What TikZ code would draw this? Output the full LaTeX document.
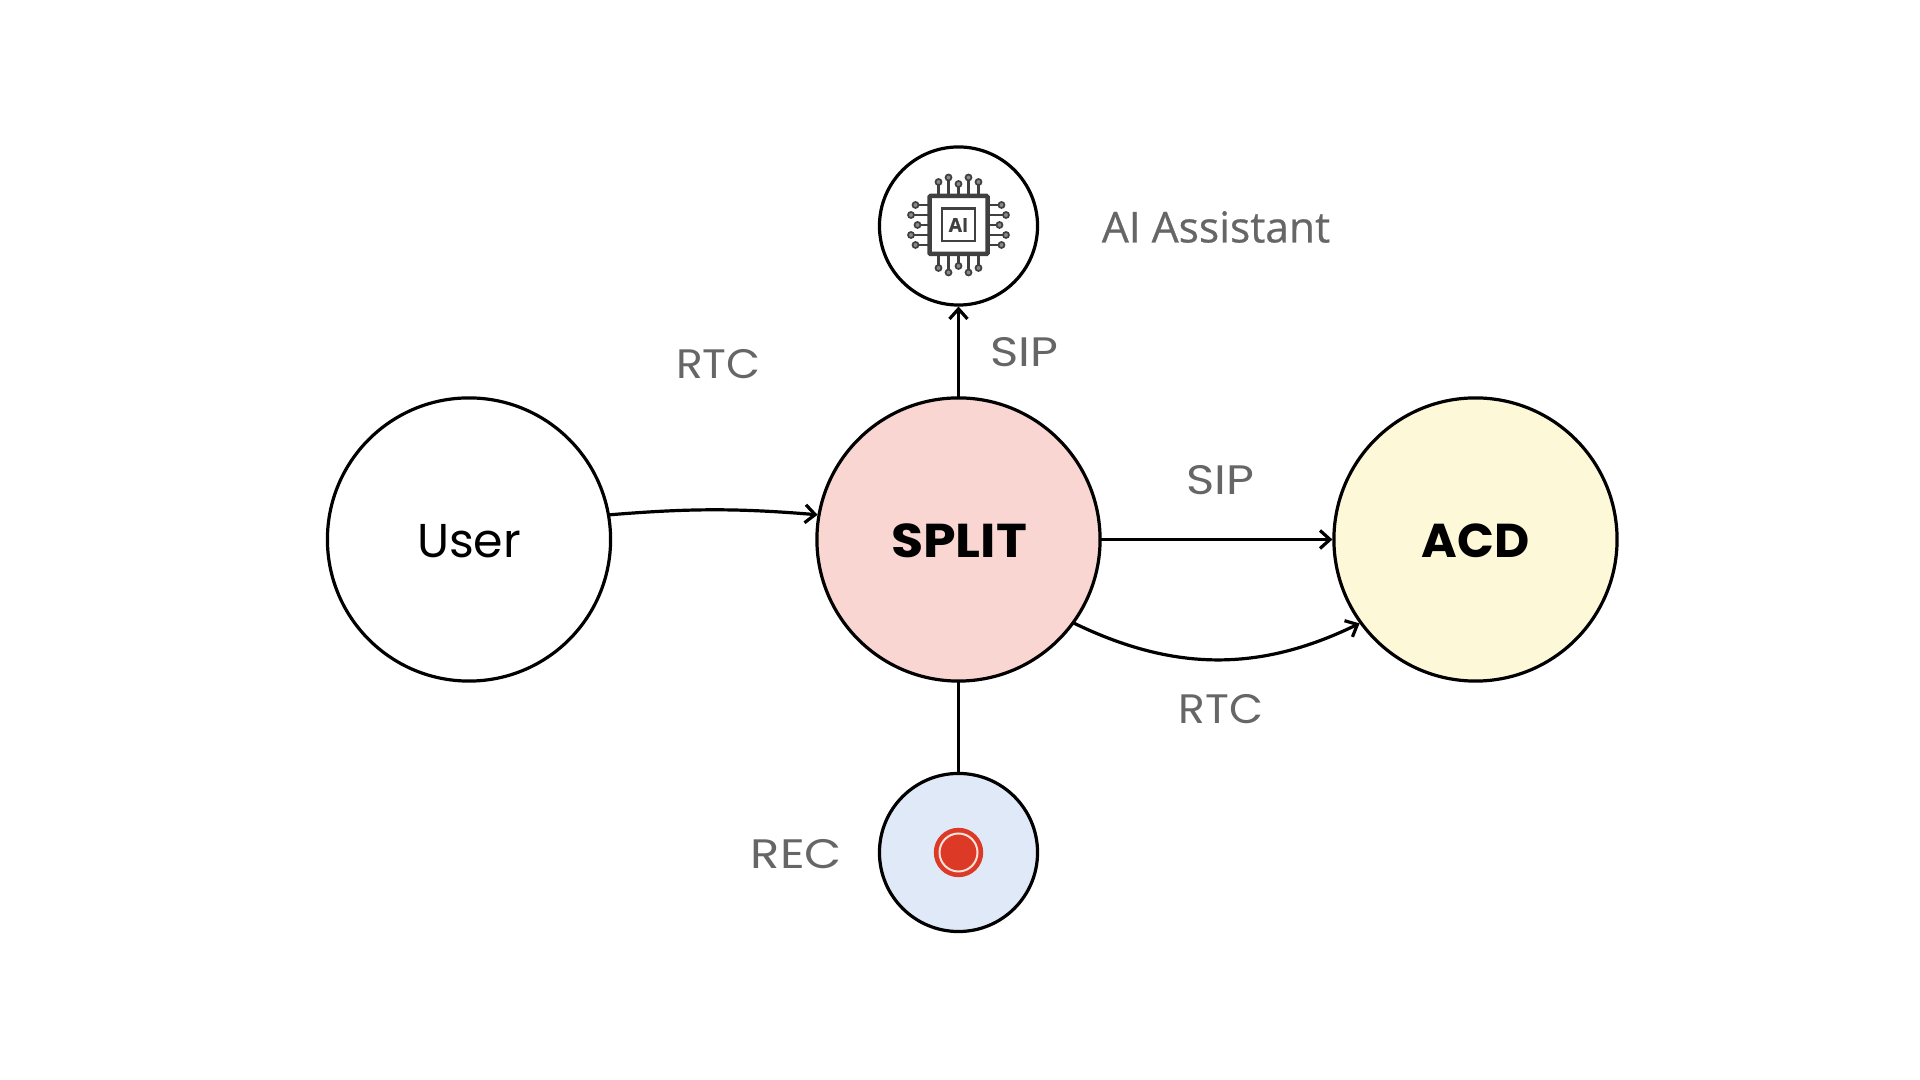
\documentclass[tikz,border=0pt]{standalone}
\usepackage{fontspec}
\usetikzlibrary{arrows.meta}
\newfontfamily\polyfont{Poppins}
\newfontfamily\polywider[FakeStretch=1.17]{Poppins}
\newfontfamily\polyrtc[FakeStretch=1.07]{Poppins}
\newfontfamily\boldsplit[FakeStretch=1.1]{Poppins Bold}
\newfontfamily\boldacd[FakeStretch=1.02]{Poppins Bold}
\newfontfamily\opensansfont[FakeBold=0.6]{Open Sans}
\newfontfamily\opensansbold[FakeBold=0.8]{Open Sans Bold}
\definecolor{labelgrey}{HTML}{666666}
\definecolor{chipdark}{HTML}{404040}
\definecolor{chippin}{HTML}{8A8A8A}
\definecolor{splitfill}{HTML}{F9D6D2}
\definecolor{acdfill}{HTML}{FDF8D8}
\definecolor{recfill}{HTML}{DFE9F7}
\definecolor{recred}{HTML}{DC3A26}
\definecolor{recring}{HTML}{FBE3DC}
\tikzset{
  big/.style={circle,draw=black,line width=0.032cm,minimum size=2.83cm,inner sep=0pt,outer sep=0pt},
  small/.style={circle,draw=black,line width=0.032cm,minimum size=1.58cm,inner sep=0pt,outer sep=0pt},
  wire/.style={draw=black,line width=0.032cm},
  tipped/.style={wire,shorten >=0.015cm,-{Straight Barb[length=0.1cm,width=0.18cm,line width=0.032cm]}},
  lab/.style={text=labelgrey,inner sep=0pt},
  inlab/.style={inner sep=0pt},
  chipterm/.style={circle,draw=chipdark,fill=chippin,line width=0.017cm,minimum size=0.06cm,inner sep=0pt,outer sep=0pt},
}
\begin{document}
\begin{tikzpicture}[x=0.01cm,y=-0.01cm]
\useasboundingbox (0,0) rectangle (1920,1080);
\node[big] (user) at (469,539.5) {};
\node[big,fill=splitfill] (split) at (958.5,539.5) {};
\node[big,fill=acdfill] (acd) at (1475.5,539.5) {};
\node[small] (ai) at (958.5,226) {};
\node[small,fill=recfill] (rec) at (958.5,852.5) {};

\node[inlab,font=\polyfont\fontsize{13.5pt}{15pt}\selectfont] (tuser) at (469,541) {User};
\node[inlab,font=\boldsplit\fontsize{13.5pt}{15pt}\selectfont] (tsplit) at (959,541) {SPLIT};
\node[inlab,font=\boldacd\fontsize{13.5pt}{15pt}\selectfont] (tacd) at (1475.5,541) {ACD};

\draw[tipped] (user.10.5) to[out=4.7,in=175.3] (split.170);
\draw[tipped] (split.north) -- (ai.south);
\draw[tipped] (split.east) -- (acd.west);
\draw[tipped] (split.-36) to[out=-26,in=206] (acd.-144);
\draw[wire] (split.south) -- (rec.north);

\node[lab,font=\polyrtc\fontsize{11.7pt}{14pt}\selectfont] (lrtca) at (718.5,364) {RTC};
\node[lab,font=\polywider\fontsize{11.7pt}{14pt}\selectfont] (lsipa) at (1024,352.5) {SIP};
\node[lab,font=\polywider\fontsize{11.7pt}{14pt}\selectfont] (lsipb) at (1220,480.5) {SIP};
\node[lab,font=\polyrtc\fontsize{11.7pt}{14pt}\selectfont] (lrtcb) at (1221,709.5) {RTC};
\node[lab,font=\polywider\fontsize{11.7pt}{14pt}\selectfont] (lrec) at (796.5,854) {REC};
\node[lab,font=\opensansfont\fontsize{12.1pt}{14pt}\selectfont] (lai) at (1216,227) {AI Assistant};

% record symbol
\fill[recred] (rec.center) circle[radius=24.7];
\draw[recring,line width=0.02cm] (rec.center) circle[radius=19];

% chip icon
\begin{scope}[shift={(958.5,225)}]
  \foreach \px/\py in {-20/-43,-10/-47.5,0/-41,10/-47.5,20/-43}{
    \draw[chipdark,line width=0.022cm] (\px,-29) -- (\px,\py);
    \node[chipterm] at (\px,\py) {};
  }
  \foreach \px/\py in {-20/43,-10/47.5,0/41,10/47.5,20/43}{
    \draw[chipdark,line width=0.022cm] (\px,29) -- (\px,\py);
    \node[chipterm] at (\px,\py) {};
  }
  \foreach \py/\px in {-20/-43,-10/-47.5,0/-41,10/-47.5,20/-43}{
    \draw[chipdark,line width=0.022cm] (-29,\py) -- (\px,\py);
    \node[chipterm] at (\px,\py) {};
  }
  \foreach \py/\px in {-20/43,-10/47.5,0/41,10/47.5,20/43}{
    \draw[chipdark,line width=0.022cm] (29,\py) -- (\px,\py);
    \node[chipterm] at (\px,\py) {};
  }
  \draw[chipdark,line width=0.045cm,fill=white,rounded corners=0.01cm] (-29,-29) rectangle (29,29);
  \draw[chipdark,line width=0.028cm] (-16.5,-16.5) rectangle (16.5,16);
  \node[text=chipdark,font=\opensansbold\fontsize{5.4pt}{6pt}\selectfont,inner sep=0pt] (chiplabel) at (0,0) {AI};
\end{scope}
\end{tikzpicture}
\end{document}
